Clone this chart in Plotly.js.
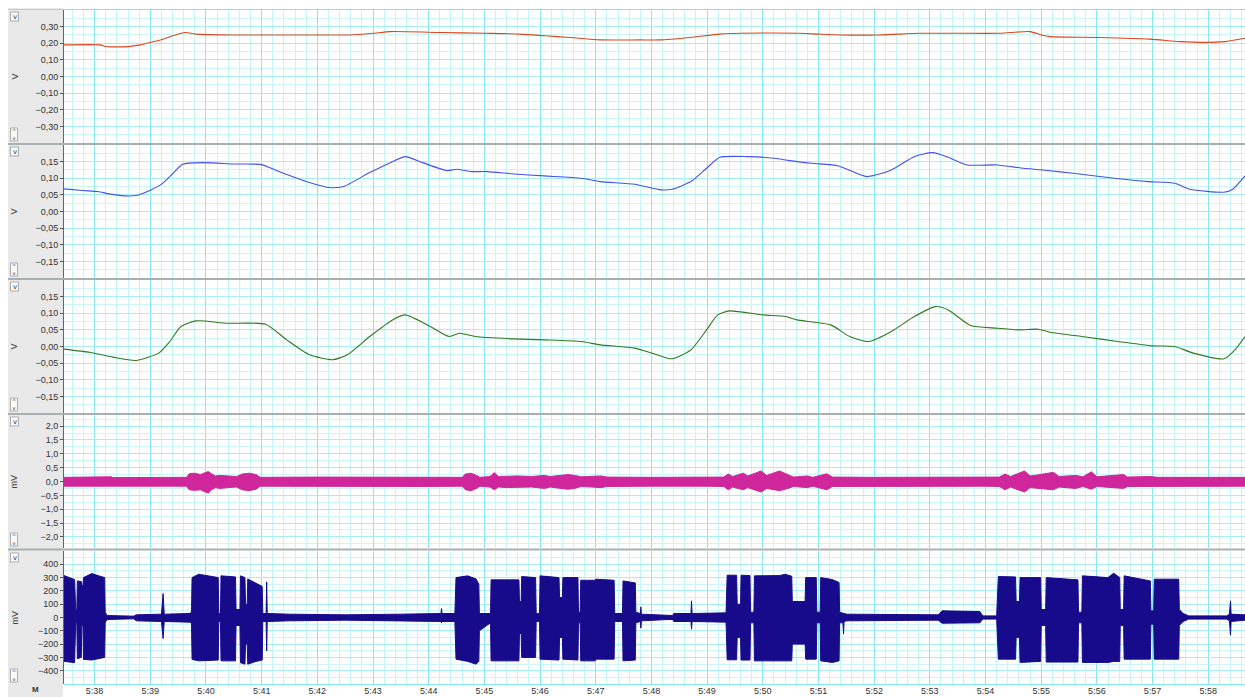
<!DOCTYPE html>
<html>
<head>
<meta charset="utf-8">
<script src="https://cdn.plot.ly/plotly-3.0.1.min.js"></script>
<style>html,body{margin:0;padding:0;background:#fff;}#chart{width:1245px;height:697px;}</style>
</head>
<body>
<div id="chart"></div>
<script>
// ---- time axis (seconds; labels m:ss) ----
const timeTickVals = [338,339,340,341,342,343,344,345,346,347,348,349,350,351,352,353,354,355,356,357,358];
const timeTickText = ["5:38","5:39","5:40","5:41","5:42","5:43","5:44","5:45","5:46","5:47","5:48","5:49","5:50","5:51","5:52","5:53","5:54","5:55","5:56","5:57","5:58"];

// ---- channel units & y ticks ----
const channelUnits = ["V","V","V","mV","mV"];
const yTicks1 = [-0.3,-0.2,-0.1,0,0.1,0.2,0.3];
const yTicks23 = [-0.15,-0.10,-0.05,0,0.05,0.10,0.15];
const yTicks4 = [-2,-1.5,-1,-0.5,0,0.5,1,1.5,2];
const yTicks5 = [-400,-300,-200,-100,0,100,200,300,400];

// ---- channel 1 (red, V) ----
const redTime = [337.45,338.10,338.19,338.60,338.82,339.00,339.18,339.45,339.63,339.81,340.50,341.50,342.59,343.00,343.31,344.20,345.00,345.64,346.09,346.54,347.08,347.80,348.15,348.69,349.23,349.60,350.66,351.00,351.38,352.10,352.82,353.50,354.26,354.80,355.00,355.16,356.05,356.95,357.49,357.94,358.30,358.66];
const redValue = [0.19,0.19,0.18,0.18,0.19,0.205,0.22,0.25,0.265,0.255,0.25,0.25,0.25,0.26,0.27,0.265,0.26,0.255,0.245,0.235,0.22,0.22,0.22,0.235,0.255,0.26,0.26,0.255,0.25,0.25,0.26,0.26,0.26,0.27,0.25,0.24,0.235,0.225,0.21,0.205,0.21,0.23];

// ---- channel 2 (blue, V) ----
const blueTime = [337.45,337.79,338.06,338.26,338.53,338.74,339.01,339.21,339.41,339.58,339.96,340.50,341.00,341.31,341.72,342.22,342.47,342.94,343.35,343.58,343.89,344.33,344.50,344.77,345.05,345.52,346.07,346.74,347.08,347.70,348.17,348.37,348.71,348.99,349.23,349.73,350.21,350.48,350.88,351.36,351.87,352.31,352.72,353.05,353.33,353.67,354.21,354.68,355.02,355.57,356.31,356.92,357.40,357.67,358.28,358.44,358.66];
const blueValue = [0.068,0.063,0.060,0.053,0.047,0.048,0.065,0.083,0.115,0.142,0.147,0.143,0.141,0.120,0.095,0.072,0.075,0.117,0.150,0.165,0.147,0.123,0.127,0.120,0.120,0.113,0.107,0.100,0.090,0.082,0.065,0.067,0.090,0.130,0.163,0.165,0.160,0.153,0.145,0.137,0.105,0.125,0.165,0.177,0.163,0.140,0.140,0.130,0.125,0.115,0.100,0.090,0.085,0.067,0.058,0.067,0.107];

// ---- channel 3 (green, V) ----
const greenTime = [337.45,337.92,338.33,338.74,339.15,339.35,339.55,339.82,340.37,341.07,341.45,341.86,342.27,342.54,342.94,343.35,343.58,344.03,344.37,344.55,344.84,345.52,346.07,346.74,347.08,347.70,348.10,348.37,348.71,348.99,349.19,349.40,350.00,350.41,350.61,351.22,351.56,351.90,352.31,352.72,353.10,353.33,353.73,354.21,354.61,354.95,355.16,355.83,356.38,356.99,357.40,357.73,358.28,358.48,358.66];
const greenValue = [-0.008,-0.018,-0.032,-0.042,-0.020,0.015,0.060,0.077,0.070,0.067,0.020,-0.025,-0.040,-0.025,0.030,0.080,0.095,0.060,0.030,0.040,0.030,0.023,0.020,0.015,0.005,-0.005,-0.025,-0.037,-0.010,0.050,0.095,0.107,0.095,0.090,0.080,0.065,0.030,0.015,0.045,0.090,0.120,0.110,0.063,0.055,0.050,0.052,0.043,0.028,0.015,0.002,0.000,-0.020,-0.037,-0.010,0.030];

// ---- channel 4 (magenta, mV): band envelope ----
const pinkTime = [337.45,338.30,338.32,339.00,339.65,339.70,339.80,339.90,340.00,340.04,340.10,340.17,340.25,340.40,340.55,340.65,340.78,340.90,340.97,342.00,343.00,344.00,344.60,344.66,344.76,344.86,344.92,345.10,345.18,345.25,345.40,345.60,345.85,346.08,346.18,346.50,346.62,346.74,347.10,347.20,348.00,349.00,349.30,349.38,349.46,349.65,349.73,349.97,350.07,350.30,350.45,350.55,350.80,350.90,351.15,351.25,352.00,353.00,354.00,354.25,354.35,354.45,354.70,354.80,354.98,355.22,355.32,355.62,355.75,355.90,356.00,356.48,356.55,356.95,357.10,358.66];
const pinkUpper = [0.15,0.17,0.14,0.14,0.15,0.28,0.30,0.25,0.33,0.36,0.28,0.20,0.22,0.20,0.18,0.27,0.30,0.25,0.15,0.16,0.15,0.16,0.15,0.27,0.30,0.22,0.15,0.18,0.32,0.18,0.20,0.20,0.18,0.22,0.18,0.25,0.22,0.17,0.20,0.16,0.15,0.15,0.16,0.27,0.18,0.30,0.20,0.38,0.22,0.38,0.25,0.16,0.20,0.15,0.28,0.16,0.15,0.15,0.15,0.16,0.27,0.18,0.38,0.20,0.25,0.33,0.18,0.22,0.17,0.35,0.17,0.25,0.16,0.18,0.15,0.15];
const pinkLower = [-0.17,-0.18,-0.16,-0.17,-0.17,-0.30,-0.32,-0.30,-0.38,-0.42,-0.30,-0.22,-0.25,-0.22,-0.20,-0.30,-0.33,-0.28,-0.17,-0.17,-0.17,-0.18,-0.17,-0.30,-0.33,-0.25,-0.17,-0.20,-0.30,-0.20,-0.22,-0.22,-0.20,-0.25,-0.20,-0.28,-0.25,-0.18,-0.22,-0.18,-0.17,-0.17,-0.18,-0.30,-0.20,-0.30,-0.22,-0.38,-0.25,-0.33,-0.25,-0.18,-0.22,-0.17,-0.30,-0.18,-0.17,-0.17,-0.17,-0.18,-0.30,-0.20,-0.38,-0.22,-0.25,-0.30,-0.20,-0.25,-0.18,-0.28,-0.18,-0.25,-0.18,-0.18,-0.17,-0.17];

// ---- channel 5 (navy, mV): burst envelope ----
const emgTime = [
337.45,337.55,337.64,337.66,337.68,337.69,337.76,337.77,337.79,337.80,
337.95,338.10,338.18,338.19,338.22,338.70,338.75,339.20,339.23,339.25,
339.70,339.74,339.75,339.87,340.22,340.23,340.26,340.27,340.53,340.54,
340.61,340.62,340.70,340.71,340.74,340.75,340.90,341.01,341.02,341.08,
341.09,341.10,341.50,342.50,343.50,344.22,344.23,344.24,344.47,344.49,
344.70,344.85,344.90,344.91,345.11,345.12,345.62,345.63,345.66,345.67,
345.92,345.93,345.99,346.00,346.34,346.35,346.40,346.41,346.68,346.69,
346.72,346.73,346.99,347.00,347.33,347.34,347.48,347.49,347.71,347.72,
347.80,347.81,347.82,348.30,348.38,348.40,348.71,348.72,348.73,349.34,
349.36,349.53,349.54,349.60,349.61,349.77,349.78,349.84,349.85,350.30,
350.40,350.52,350.53,350.76,350.77,350.96,350.97,351.03,351.04,351.25,
351.37,351.38,351.44,351.45,351.46,351.51,352.50,353.15,353.22,353.90,
353.95,354.20,354.23,354.54,354.55,354.61,354.62,354.99,355.00,355.08,
355.09,355.66,355.67,355.73,355.74,356.20,356.30,356.41,356.42,356.48,
356.49,356.96,356.97,357.02,357.03,357.47,357.48,357.55,357.65,358.33,
358.38,358.40,358.41,358.66];
const emgUpper = [
315,300,285,60,60,275,270,240,240,300,
330,310,300,40,15,10,20,25,180,25,
30,40,300,325,300,30,30,313,305,60,
60,313,300,100,100,290,260,233,30,30,
268,30,25,20,25,30,67,30,30,300,
313,290,250,30,30,283,283,120,120,308,
300,30,30,313,300,150,150,300,300,40,
40,280,280,288,280,30,30,275,260,40,
30,80,25,15,15,30,30,125,30,35,
318,318,100,100,318,315,40,40,313,315,
325,310,120,120,300,300,40,40,300,285,
263,40,30,30,30,25,20,20,50,45,
12,12,308,305,120,120,300,300,60,60,
300,283,40,40,313,300,333,300,60,60,
313,275,50,50,288,288,60,30,12,12,
25,125,25,20];
const emgLower = [
-330,-335,-340,-40,-40,-310,-300,-60,-60,-315,
-320,-305,-300,-40,-15,-10,-25,-30,-158,-30,
-35,-40,-315,-326,-320,-30,-30,-326,-326,-60,
-60,-340,-351,-200,-200,-351,-330,-320,-30,-30,
-251,-30,-25,-20,-25,-30,-40,-30,-30,-313,
-330,-351,-330,-100,-40,-326,-326,-120,-120,-300,
-300,-30,-30,-313,-320,-150,-150,-313,-320,-40,
-40,-326,-326,-313,-313,-30,-30,-326,-320,-40,
-30,-80,-25,-15,-15,-30,-30,-88,-30,-35,
-318,-318,-150,-150,-320,-320,-40,-40,-326,-326,
-326,-326,-200,-200,-313,-313,-40,-40,-326,-338,
-326,-40,-40,-125,-30,-25,-20,-20,-43,-40,
-12,-12,-313,-313,-150,-150,-338,-330,-60,-60,
-335,-335,-40,-40,-338,-338,-330,-330,-60,-60,
-313,-313,-50,-50,-313,-313,-60,-30,-12,-12,
-25,-133,-30,-20];

// ---------------- build ----------------
const W = 1245, H = 697, ML = 64, MR = 0, MT = 10, MB = 13;
const plotW = W - ML - MR, plotH = H - MT - MB;
const px = x => (x - ML) / plotW;
const py = y => (H - MB - y) / plotH;
const panels = [{top:10,bot:143},{top:145,bot:278},{top:280,bot:413},{top:415,bot:548},{top:551,bot:684}];

function band(t, up, lo) {
  return { x: t.concat(t.slice().reverse()), y: up.concat(lo.slice().reverse()) };
}
const pinkBand = band(pinkTime, pinkUpper, pinkLower);
const emgBand = band(emgTime, emgUpper, emgLower);

const smooth = {shape: 'spline', smoothing: 0.6};
const traces = [
  {x: redTime, y: redValue, xaxis:'x', yaxis:'y', mode:'lines', line:Object.assign({color:'#e0441c', width:1.1}, smooth)},
  {x: blueTime, y: blueValue, xaxis:'x2', yaxis:'y2', mode:'lines', line:Object.assign({color:'#4052f2', width:1.1}, smooth)},
  {x: greenTime, y: greenValue, xaxis:'x3', yaxis:'y3', mode:'lines', line:Object.assign({color:'#2f7a1f', width:1.1}, smooth)},
  {x: pinkBand.x, y: pinkBand.y, xaxis:'x4', yaxis:'y4', mode:'lines', fill:'toself', fillcolor:'#d0269c', line:{color:'#d0269c', width:1}},
  {x: emgBand.x, y: emgBand.y, xaxis:'x5', yaxis:'y5', mode:'lines', fill:'toself', fillcolor:'#170b8c', line:{color:'#170b8c', width:1}}
];

const xRange = [337.45, 358.66];
const layout = {
  width: W, height: H,
  margin: {l: ML, r: MR, t: MT, b: MB, pad: 0},
  paper_bgcolor: '#ffffff', plot_bgcolor: '#ffffff',
  separators: ',.',
  showlegend: false,
  font: {family: 'Liberation Sans, Arial, sans-serif', size: 9, color: '#333'},
  shapes: [], annotations: []
};

const yCfg = [
  {range:[-0.4,0.4], tickvals:yTicks1, fmt:'.2f', minor:0.05},
  {range:[-0.2,0.2], tickvals:yTicks23, fmt:'.2f', minor:0.025},
  {range:[-0.2,0.2], tickvals:yTicks23, fmt:'.2f', minor:0.025},
  {range:[-2.4,2.4], tickvals:yTicks4, fmt:'.1f', minor:0.25},
  {range:[-500,500], tickvals:yTicks5, fmt:'d', minor:50}
];

panels.forEach((p, i) => {
  const n = i === 0 ? '' : String(i + 1);
  const last = i === panels.length - 1;
  layout['xaxis' + n] = {
    domain: [0, 1], anchor: 'y' + n, range: xRange,
    tickmode: 'array', tickvals: timeTickVals, ticktext: timeTickText,
    showticklabels: last, ticks: last ? 'inside' : '', ticklen: 0, tickcolor: '#777',
    showgrid: true, gridcolor: '#86e9f0', gridwidth: 1,
    minor: {tickmode:'linear', tick0: 338, dtick: 0.2, showgrid: true, gridcolor: '#c6f5f8', gridwidth: 1,
            ticks: '', ticklen: 2, tickcolor: '#999'},
    zeroline: false, showline: false, fixedrange: true,
    tickfont: {size: 9, color: '#333'}
  };
  const c = yCfg[i];
  layout['yaxis' + n] = {
    domain: [py(p.bot), py(p.top)], anchor: 'x' + n, range: c.range,
    tickmode: 'array', tickvals: c.tickvals, tickformat: c.fmt,
    ticks: 'outside', ticklen: 3, tickcolor: '#555',
    showline: true, linecolor: '#666', linewidth: 1,
    showgrid: true, gridcolor: '#a6eef3', gridwidth: 1,
    minor: {tickmode:'linear', tick0: 0, dtick: c.minor, showgrid: true, gridcolor: '#cdf6f8', gridwidth: 1},
    zeroline: false, fixedrange: true,
    tickfont: {size: 9, color: '#333'}
  };
  // unit label
  layout.annotations.push({xref:'paper', yref:'paper', x: px(14), y: py((p.top + p.bot) / 2),
    xanchor:'center', yanchor:'middle',
    text: channelUnits[i], textangle: -90, showarrow: false, font: {size: 9, color: '#444'}});
  // top dropdown button
  layout.shapes.push({type:'rect', xref:'paper', yref:'paper', x0: px(10.5), x1: px(18.5), y0: py(p.top + 11), y1: py(p.top + 2),
    fillcolor:'#fafafa', line:{color:'#999', width:0.8}, layer:'above'});
  layout.annotations.push({xref:'paper', yref:'paper', x: px(14.5), y: py(p.top + 6.5), xanchor:'center', yanchor:'middle',
    text:'v', showarrow:false, font:{size:7, color:'#333', family:'DejaVu Sans'}});
  // bottom spinner
  layout.shapes.push({type:'rect', xref:'paper', yref:'paper', x0: px(10.5), x1: px(17.5), y0: py(p.bot - 2), y1: py(p.bot - 15),
    fillcolor:'#fafafa', line:{color:'#999', width:0.8}, layer:'above'});
  layout.annotations.push({xref:'paper', yref:'paper', x: px(14), y: py(p.bot - 8.5), xanchor:'center', yanchor:'middle',
    text:'^<br>v', showarrow:false, font:{size:5, color:'#333', family:'DejaVu Sans'}});
});

// left grey channel panel
layout.shapes.unshift({type:'rect', xref:'paper', yref:'paper', x0: px(8), x1: px(63), y0: py(697), y1: py(8),
  fillcolor:'#e9e9e9', line:{width:0}, layer:'below'});
// panel separators
[144, 279, 414, 549.5].forEach(y => {
  layout.shapes.push({type:'line', xref:'paper', yref:'paper', x0: px(8), x1: 1, y0: py(y), y1: py(y),
    line:{color:'#a9b0b0', width:2.2}, layer:'above'});
});
// top edge and bottom edge of record
layout.shapes.push({type:'line', xref:'paper', yref:'paper', x0: px(8), x1: 1, y0: py(9.5), y1: py(9.5), line:{color:'#c8c8c8', width:1}, layer:'above'});
layout.shapes.push({type:'line', xref:'paper', yref:'paper', x0: 0, x1: 1, y0: py(684.5), y1: py(684.5), line:{color:'#86e9f0', width:1.2}, layer:'above'});
layout.annotations.push({xref:'paper', yref:'paper', x: px(35), y: py(696), xanchor:'center', yanchor:'bottom', text:'<b>M</b>', showarrow:false,
  font:{size:8, color:'#333'}});

Plotly.newPlot('chart', traces, layout, {staticPlot: true, displayModeBar: false});
</script>
</body>
</html>
